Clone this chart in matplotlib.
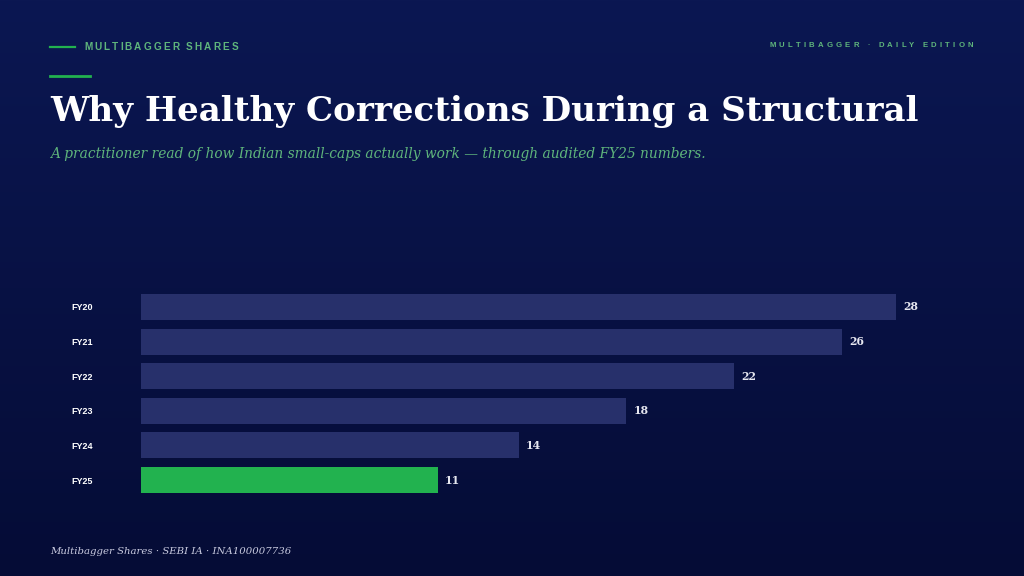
import numpy as np
import matplotlib
matplotlib.use('Agg')
import matplotlib.pyplot as plt

years = ['FY20', 'FY21', 'FY22', 'FY23', 'FY24', 'FY25']
values = [28, 26, 22, 18, 14, 11]
highlight = 'FY25'

bg_top = '#0b1752'
bg_bottom = '#050c36'
bar_color = '#27306b'
green = '#22b24f'
text_green = '#5fb57c'

W, H = 1024, 576
fig = plt.figure(figsize=(W / 100, H / 100), dpi=100)

# background gradient
bg = fig.add_axes([0, 0, 1, 1], zorder=0)
grad = np.linspace(0, 1, 256).reshape(-1, 1)
c0 = np.array(matplotlib.colors.to_rgb(bg_top))
c1 = np.array(matplotlib.colors.to_rgb(bg_bottom))
img = c0[None, None, :] * (1 - grad[:, :, None]) + c1[None, None, :] * grad[:, :, None]
bg.imshow(img, aspect='auto', extent=[0, 1, 0, 1])
bg.set_xlim(0, 1)
bg.set_ylim(0, 1)
bg.axis('off')


def measure(s, spacing, **kw):
    r = fig.canvas.get_renderer()
    total = 0
    for ch in s:
        if ch == ' ':
            wdt = kw.get('fontsize', 10) * 0.35
        else:
            t = fig.text(0, 0, ch, **kw)
            wdt = t.get_window_extent(renderer=r).width
            t.remove()
        total += wdt + spacing
    return total - spacing


def tracked(x, y, s, spacing, **kw):
    # draw text with letter spacing, one char at a time
    r = fig.canvas.get_renderer()
    cx = x
    for ch in s:
        t = fig.text(cx / W, 1 - y / H, ch, va='center', ha='left', **kw)
        wdt = t.get_window_extent(renderer=r).width
        if ch == ' ':
            wdt = kw.get('fontsize', 10) * 0.35
        cx += wdt + spacing


head_kw = dict(color=text_green, fontweight='bold', family='Liberation Sans')

# header lines and texts
fig.add_artist(plt.Line2D([50 / W, 75 / W], [1 - 47 / H] * 2, color=green, lw=1.6))
fig.add_artist(plt.Line2D([50 / W, 90 / W], [1 - 76 / H] * 2, color=green, lw=2))
tracked(84, 46.5, 'MULTIBAGGER SHARES', 2.1, fontsize=7.2, **head_kw)

right_txt = 'MULTIBAGGER · DAILY EDITION'
rw = measure(right_txt, 3.2, fontsize=5.6, **head_kw)
tracked(973 - rw, 45.5, right_txt, 3.2, fontsize=5.6, **head_kw)

fig.text(50 / W, 1 - 111 / H, 'Why Healthy Corrections During a Structural',
         fontsize=24.6, fontweight='bold', color='white', family='DejaVu Serif',
         va='center', ha='left')
fig.text(50 / W, 1 - 154 / H,
         'A practitioner read of how Indian small-caps actually work — through audited FY25 numbers.',
         fontsize=9.95, style='italic', color=text_green, family='DejaVu Serif',
         va='center', ha='left')

fig.text(50 / W, 1 - 551 / H, 'Multibagger Shares · SEBI IA · INA100007736',
         fontsize=7.3, style='italic', color='#c9cbe0', family='DejaVu Serif',
         va='center', ha='left')

# bar chart
x0, x1 = 141, 971
y_top, y_bot = 289.7, 497.3
ax = fig.add_axes([x0 / W, 1 - y_bot / H, (x1 - x0) / W, (y_bot - y_top) / H], zorder=1)
ax.patch.set_alpha(0)
pos = np.arange(len(years))
colors = [green if y == highlight else bar_color for y in years]
ax.barh(pos, values, height=0.75, color=colors)
ax.set_ylim(len(years) - 0.5, -0.5)
ax.set_xlim(0, 830 / (755 / 28))
for p, v in zip(pos, values):
    ax.text(v + 0.27, p, str(v), va='center', ha='left', fontsize=7.8,
            fontweight='bold', color='#e6e7f0', family='DejaVu Serif')
ax.set_yticks(pos)
ax.set_yticklabels(years, fontsize=6.5, fontweight='bold', color='white',
                   family='Liberation Sans')
ax.tick_params(axis='y', length=0, pad=50.4)
for lab in ax.get_yticklabels():
    lab.set_ha('left')
ax.set_xticks([])
for s in ax.spines.values():
    s.set_visible(False)

fig.savefig('out.png', dpi=100)
